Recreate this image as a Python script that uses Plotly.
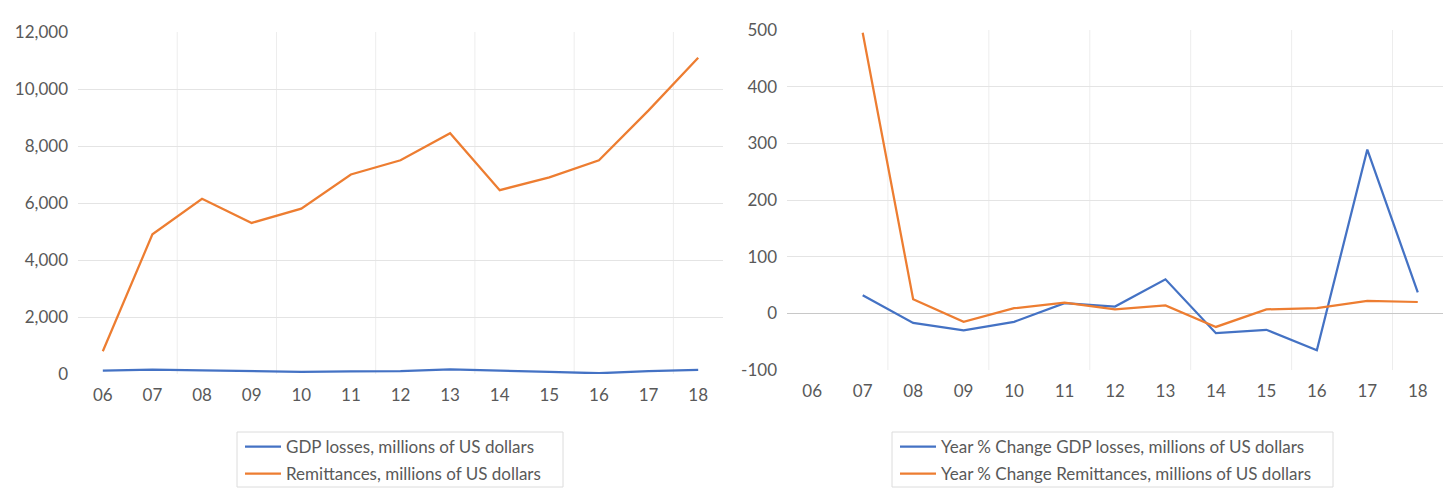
import plotly.graph_objects as go

years = ["06", "07", "08", "09", "10", "11", "12", "13", "14", "15", "16", "17", "18"]
gdp_losses = [120, 156, 130, 91, 77, 91, 100, 158, 103, 72, 27, 103, 141]
remittances = [800, 4900, 6150, 5300, 5800, 7000, 7500, 8450, 6450, 6900, 7500, 9250, 11100]
gdp_pct = [None, 32, -17, -30, -15, 18, 12, 60, -35, -29, -65, 289, 37]
rem_pct = [None, 495, 25, -15, 9, 19, 7, 14, -24, 7, 9, 22, 20]

left_ticks = [0, 2000, 4000, 6000, 8000, 10000, 12000]
right_ticks = [-100, 0, 100, 200, 300, 400, 500]
left_ticktext = ["0", "2,000", "4,000", "6,000", "8,000", "10,000", "12,000"]
right_ticktext = ["-100", "0", "100", "200", "300", "400", "500"]

BLUE = "#4472C4"
ORANGE = "#ED7D31"
TXT = "#595959"
FONT = "Lato"
W, H = 1449, 488

fig = go.Figure()
fig.add_trace(go.Scatter(x=years, y=gdp_losses, mode="lines", name="GDP losses, millions of US dollars",
                         line=dict(color=BLUE, width=2.25), xaxis="x", yaxis="y", legend="legend"))
fig.add_trace(go.Scatter(x=years, y=remittances, mode="lines", name="Remittances, millions of US dollars",
                         line=dict(color=ORANGE, width=2.25), xaxis="x", yaxis="y", legend="legend2"))
fig.add_trace(go.Scatter(x=years, y=gdp_pct, mode="lines", name="Year % Change GDP losses, millions of US dollars",
                         line=dict(color=BLUE, width=2.25), xaxis="x2", yaxis="y2", legend="legend3"))
fig.add_trace(go.Scatter(x=years, y=rem_pct, mode="lines", name="Year % Change Remittances, millions of US dollars",
                         line=dict(color=ORANGE, width=2.25), xaxis="x2", yaxis="y2", legend="legend4"))

def px(v):
    return v / W

def py(v):
    return (H - v) / H

axis_font = dict(family=FONT, size=17, color=TXT)
xcommon = dict(type="category", categoryorder="array", categoryarray=years, range=[-0.5, len(years) - 0.5],
               showgrid=False, zeroline=False, showline=False, tickfont=axis_font, ticks="",
               ticklabelstandoff=9, fixedrange=True, automargin=False)
ycommon = dict(showline=False, ticks="", tickfont=axis_font, gridcolor="#E4E4E4", gridwidth=1,
               ticklabelstandoff=9, fixedrange=True, automargin=False, tickmode="array")

legend_common = dict(font=dict(family=FONT, size=17, color=TXT), bgcolor="rgba(0,0,0,0)",
                     borderwidth=0, xanchor="left", yanchor="middle", itemwidth=36,
                     xref="paper", yref="paper")

shapes = []
# light worksheet cell lines behind the charts
for i in range(1, len(years) - 1, 2):
    for xr in ("x", "x2"):
        shapes.append(dict(type="line", xref=xr, yref="y domain" if xr == "x" else "y2 domain",
                           x0=i + 0.5, x1=i + 0.5, y0=0, y1=1, layer="below",
                           line=dict(color="#EDEDED", width=1)))
# legend boxes
shapes.append(dict(type="rect", xref="paper", yref="paper", x0=px(237), x1=px(563), y0=py(487), y1=py(432),
                   line=dict(color="#DCDCDC", width=1)))
shapes.append(dict(type="rect", xref="paper", yref="paper", x0=px(892), x1=px(1333), y0=py(487), y1=py(432),
                   line=dict(color="#DCDCDC", width=1)))

fig.update_layout(
    width=W, height=H,
    margin=dict(l=0, r=0, t=0, b=0, autoexpand=False),
    paper_bgcolor="white", plot_bgcolor="white",
    font=dict(family=FONT, color=TXT),
    xaxis=dict(domain=[px(78), px(723)], anchor="y", **xcommon),
    yaxis=dict(domain=[py(374), py(32)], anchor="x", range=[0, 12000], tickvals=left_ticks,
               ticktext=left_ticktext, zeroline=False, **ycommon),
    xaxis2=dict(domain=[px(787), px(1443)], anchor="y2", **xcommon),
    yaxis2=dict(domain=[py(370), py(30)], anchor="x2", range=[-100, 500], tickvals=right_ticks,
                ticktext=right_ticktext,
                zeroline=True, zerolinecolor="#C8C8C8", zerolinewidth=1.3, **ycommon),
    legend=dict(x=px(240), y=py(447), **legend_common),
    legend2=dict(x=px(240), y=py(474), **legend_common),
    legend3=dict(x=px(895), y=py(447), **legend_common),
    legend4=dict(x=px(895), y=py(474), **legend_common),
    shapes=shapes,
    showlegend=True,
)

fig.write_html("out.html")
